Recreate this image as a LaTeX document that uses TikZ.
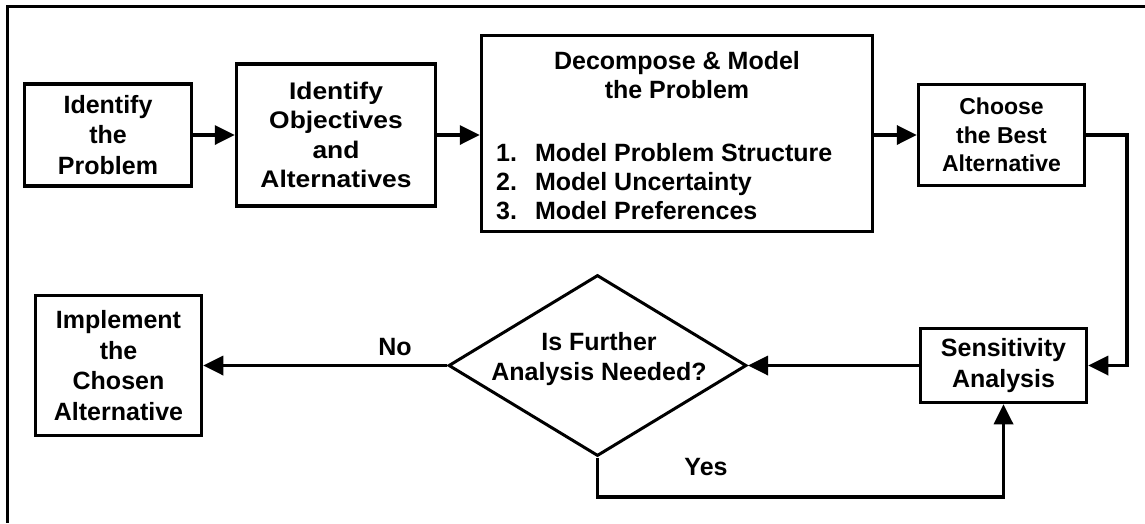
\documentclass[tikz,border=0pt]{standalone}
\usepackage{fontspec}
\setmainfont{Liberation Sans}
\newfontfamily\widesans{Liberation Sans}[FakeStretch=1.1]
\usetikzlibrary{arrows.meta,shapes.geometric}
\newcommand\boxfont{\bfseries\fontsize{25}{30.5}\selectfont}
\newcommand\listfont{\bfseries\fontsize{25}{29}\selectfont}
\newcommand\widefont{\widesans\bfseries\fontsize{24}{29.5}\selectfont}
\newcommand\narrowfont{\bfseries\fontsize{23}{28.5}\selectfont}
\begin{document}
\begin{tikzpicture}[x=1pt,y=-1pt,
  box/.style={draw, line width=3.5pt, align=center, inner sep=0pt, font=\boxfont},
  txt/.style={inner sep=0pt, font=\boxfont},
  conn/.style={line width=3.5pt},
  arr/.style={conn, -{Triangle[length=20pt,width=19pt]}},
  decision/.style={diamond, draw, line width=3pt, inner sep=0pt,
    minimum width=298pt, minimum height=181pt},
]
\useasboundingbox (0,0) rectangle (1145,523);
% open frame: top and left edges only
\draw[line width=3.5pt] (1145,6.7) -- (7.5,6.7) -- (7.5,523);

% top row
\node[box, minimum width=167pt, minimum height=102pt] (ident) at (108,135) {Identify\\the\\Problem};
\node[box, font=\widefont, minimum width=199pt, minimum height=142pt] (objs) at (336,135) {Identify\\Objectives\\and\\Alternatives};
\node[box, minimum width=391pt, minimum height=196pt] (model) at (677,133.5) {};
\node[txt, align=center, font=\listfont] (modeltitle) at (677,75.5) {Decompose \& Model\\the Problem};
\node[txt, align=left, anchor=west, font=\listfont] (modellist) at (496,182)
  {1.\hspace{18pt}Model Problem Structure\\2.\hspace{18pt}Model Uncertainty\\3.\hspace{18pt}Model Preferences};
\node[box, font=\narrowfont, minimum width=166pt, minimum height=101pt] (best) at (1001.5,135) {Choose\\the Best\\Alternative};

% bottom row
\node[box, minimum width=166pt, minimum height=74pt] (sens) at (1003.5,365.5) {Sensitivity\\Analysis};
\node[decision] (dec) at (597.5,365.5) {};
\node[txt, align=center] (dectext) at (599,359) {Is Further\\Analysis Needed?};
\node[box, minimum width=166pt, minimum height=140pt] (impl) at (118.5,365.5) {Implement\\the\\Chosen\\Alternative};

% connectors
\coordinate (rline) at (1127,135);
\coordinate (loop) at (597.5,497);
\draw[arr] (ident.east) -- (objs.west);
\draw[arr] (objs.east) -- (objs.east -| model.west);
\draw[arr] (best.west -| model.east) -- (best.west);
\draw[arr] (best.east) -- (rline) |- (sens.east);
\draw[arr] (sens.west) -- (dec.east);
\draw[arr] (dec.west) -- (impl.east);
\draw[arr] (dec.south) -- (loop) -| (sens.south);

% branch labels
\node[txt] (no) at (395,347) {No};
\node[txt] (yes) at (706,467.5) {Yes};
\end{tikzpicture}
\end{document}
